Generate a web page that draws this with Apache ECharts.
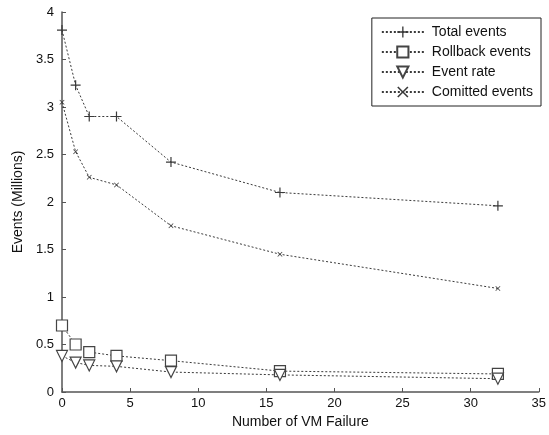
<!DOCTYPE html>
<html>
<head>
<meta charset="utf-8">
<script src="https://cdn.jsdelivr.net/npm/echarts@6/dist/echarts.min.js"></script>
<style>
  html, body { margin: 0; padding: 0; background: #fff; }
  #chart { width: 549px; height: 435px; }
</style>
</head>
<body>
<div id="chart"></div>
<script>
// number of VM failures (x values)
var failures = [0, 1, 2, 4, 8, 16, 32];

// events in millions
var totalEvents = [3.81, 3.23, 2.90, 2.90, 2.42, 2.10, 1.96];
var rollbackEvents = [0.70, 0.50, 0.42, 0.38, 0.33, 0.22, 0.19];
var eventRate = [0.38, 0.31, 0.28, 0.27, 0.21, 0.18, 0.14];
var committedEvents = [3.05, 2.53, 2.26, 2.18, 1.75, 1.45, 1.09];

var seriesNames = ['Total events', 'Rollback events', 'Event rate', 'Comitted events'];

var font = 'Liberation Sans, Arial, sans-serif';
var ink = '#3a3a3a';

var plusPath = 'path://M4.4,0H5.6V4.4H10V5.6H5.6V10H4.4V5.6H0V4.4H4.4Z';
var crossPath = 'path://M1,0L5,4L9,0L10,1L6,5L10,9L9,10L5,6L1,10L0,9L4,5L0,1Z';

function pairs(ys) {
    return failures.map(function (x, i) { return [x, ys[i]]; });
}

// hollow marks get a white fill with a thin border
function makeSeries(name, ys, symbol, size, hollow, rotate) {
    return {
        name: name,
        type: 'line',
        data: pairs(ys),
        symbol: symbol,
        symbolSize: size,
        symbolRotate: rotate || 0,
        showAllSymbol: true,
        lineStyle: { color: ink, width: 1, type: [2, 2] },
        itemStyle: hollow
            ? { color: '#fff', borderColor: '#444', borderWidth: 1.2 }
            : { color: ink, borderWidth: 0 },
        animation: false
    };
}

var chart = echarts.init(document.getElementById('chart'));

var option = {
    backgroundColor: '#fff',
    textStyle: { fontFamily: font },
    grid: { left: 62, right: 5, top: 12, bottom: 43 },
    legend: {
        orient: 'vertical',
        right: 8,
        top: 18,
        padding: [7, 8, 7, 9],
        itemGap: 6,
        itemWidth: 42,
        itemHeight: 14,
        borderColor: '#222',
        borderWidth: 1,
        backgroundColor: '#fff',
        textStyle: { fontFamily: font, fontSize: 14, color: '#111', padding: [0, 0, 0, 3] },
        data: seriesNames
    },
    xAxis: {
        type: 'value',
        min: 0,
        max: 35,
        interval: 5,
        name: 'Number of VM Failure',
        nameLocation: 'middle',
        nameGap: 23,
        nameTextStyle: { fontFamily: font, fontSize: 14, color: '#111' },
        axisLine: { lineStyle: { color: '#555', width: 1.5 } },
        axisTick: { inside: true, length: 4, lineStyle: { color: '#555' } },
        axisLabel: { fontFamily: font, fontSize: 13, color: '#111', margin: 5 },
        splitLine: { show: false }
    },
    yAxis: {
        type: 'value',
        min: 0,
        max: 4,
        interval: 0.5,
        name: 'Events (Millions)',
        nameLocation: 'middle',
        nameGap: 36,
        nameTextStyle: { fontFamily: font, fontSize: 14, color: '#111' },
        axisLine: { show: true, lineStyle: { color: '#555', width: 1.5 } },
        axisTick: { show: true, inside: true, length: 4, lineStyle: { color: '#555' } },
        axisLabel: { fontFamily: font, fontSize: 13, color: '#111', margin: 8 },
        splitLine: { show: false }
    },
    series: [
        makeSeries(seriesNames[0], totalEvents, plusPath, 10, false),
        makeSeries(seriesNames[1], rollbackEvents, 'rect', 11, true),
        makeSeries(seriesNames[2], eventRate, 'triangle', 11, true, 180),
        makeSeries(seriesNames[3], committedEvents, crossPath, 5, false)
    ]
};

chart.setOption(option);
</script>
</body>
</html>
